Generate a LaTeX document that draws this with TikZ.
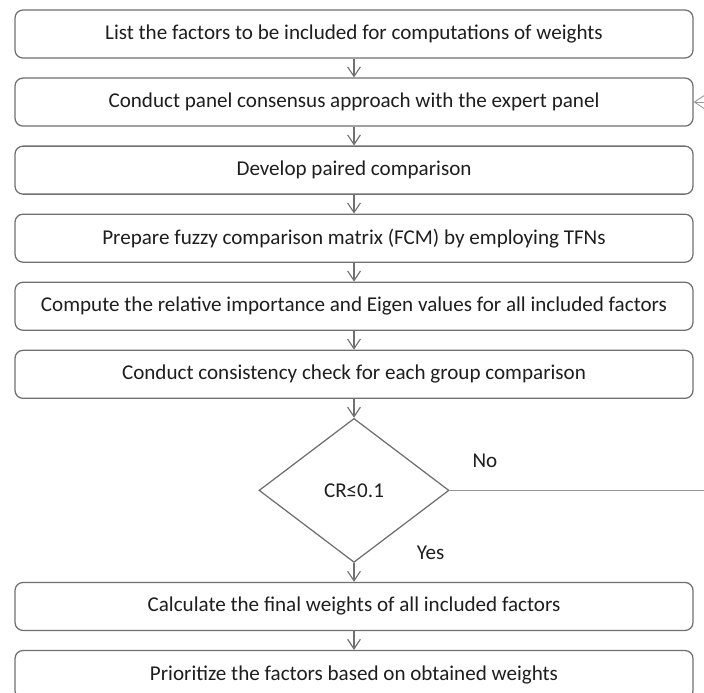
\documentclass[tikz,border=0pt]{standalone}
\usepackage{fontspec}
\setmainfont{Carlito}
\usepackage{xcolor}
\usetikzlibrary{arrows.meta, positioning, shapes.geometric}

\definecolor{boxgray}{RGB}{112,112,112}
\definecolor{linegray}{RGB}{150,150,150}
\definecolor{textgray}{RGB}{30,30,30}

\begin{document}
\begin{tikzpicture}[
  box/.style={draw=boxgray, line width=0.9pt, rounded corners=2mm, minimum width=16.95cm, minimum height=1.2cm, align=center, text=textgray, font=\fontsize{15}{17}\selectfont},
  arrow/.style={-{Straight Barb[length=2.4mm, width=3.2mm]}, draw=boxgray, line width=0.8pt},
  node distance=0.47cm
]
  \clip (0,0) rectangle (17.6,-17.325);

  \node[box] (factors) at (8.85,-0.85) {List the factors to be included for computations of weights};
  \node[box, below=of factors] (panel) {Conduct panel consensus approach with the expert panel};
  \node[box, below=of panel] (paired) {Develop paired comparison};
  \node[box, below=of paired] (fcm) {Prepare fuzzy comparison matrix (FCM) by employing TFNs};
  \node[box, below=of fcm] (eigen) {Compute the relative importance and Eigen values for all included factors};
  \node[box, below=of eigen] (check) {Conduct consistency check for each group comparison};
  \node[diamond, draw=boxgray, line width=0.9pt, minimum width=4.75cm, minimum height=3.6cm, inner sep=0pt, text=textgray, font=\fontsize{15}{17}\selectfont, below=of check] (cr) {CR≤0.1};
  \node[box, below=of cr] (final) {Calculate the final weights of all included factors};
  \node[box, below=of final] (rank) {Prioritize the factors based on obtained weights};

  \coordinate (loop) at (18.2,0 |- cr.east);

  \draw[arrow] (factors) -- (panel);
  \draw[arrow] (panel) -- (paired);
  \draw[arrow] (paired) -- (fcm);
  \draw[arrow] (fcm) -- (eigen);
  \draw[arrow] (eigen) -- (check);
  \draw[arrow] (check) -- (cr);
  \draw[arrow] (cr) -- (final);
  \draw[arrow] (final) -- (rank);
  \draw[arrow, draw=linegray, line width=0.6pt] (cr.east) -- (loop) |- (panel.east);

  \node[text=textgray, font=\fontsize{15}{17}\selectfont, above right=0.45cm and 0.45cm of cr.east] (no) {No};
  \node[text=textgray, font=\fontsize{15}{17}\selectfont, above right=-0.05cm and 1.45cm of cr.south] (yes) {Yes};
\end{tikzpicture}
\end{document}
